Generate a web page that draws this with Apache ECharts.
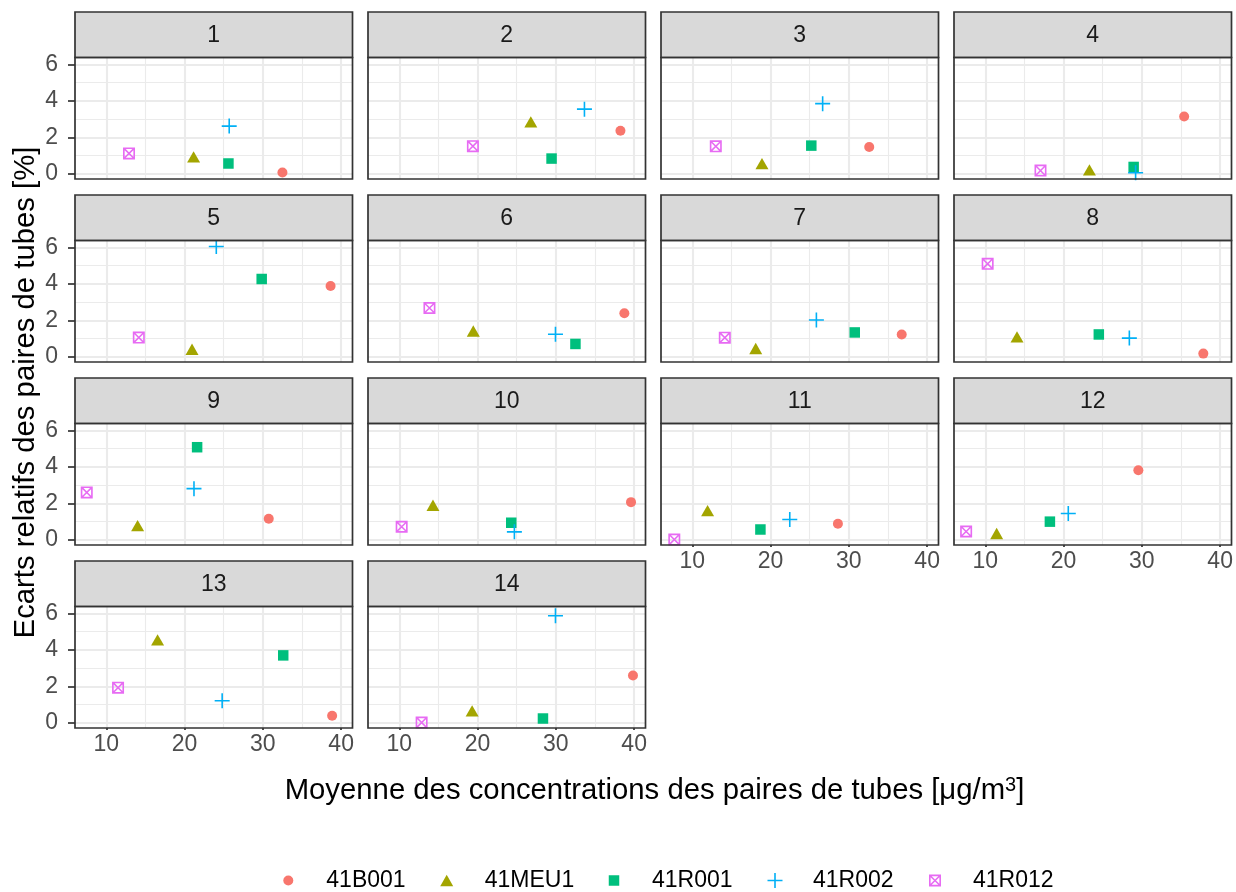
<!DOCTYPE html>
<html>
<head>
<meta charset="utf-8">
<script src="https://cdn.jsdelivr.net/npm/echarts@6/dist/echarts.min.js"></script>
<style>
html,body{margin:0;padding:0;background:#ffffff;}
#c{width:1236px;height:892px;}
</style>
</head>
<body>
<div id="c"></div>
<script>
// ---------------- DATA ----------------
const panelLabels = ['1','2','3','4','5','6','7','8','9','10','11','12','13','14'];
const stations = ['41B001','41MEU1','41R001','41R002','41R012'];

const x41B001 = [32.5, 38.25, 32.6, 35.4, 38.65, 38.75, 36.75, 37.85, 30.75, 39.6, 28.6, 29.55, 38.85, 39.85];
const y41B001 = [0.08, 2.36, 1.47, 3.15, 3.89, 2.39, 1.23, 0.18, 1.16, 2.07, 0.88, 3.82, 0.39, 2.6];
const x41MEU1 = [21.15, 26.8, 18.9, 23.3, 20.95, 19.45, 18.1, 14.05, 14.0, 14.3, 11.95, 11.45, 16.55, 19.3];
const y41MEU1 = [0.93, 2.85, 0.56, 0.22, 0.42, 1.42, 0.46, 1.1, 0.78, 1.9, 1.6, 0.35, 4.55, 0.66];
const x41R001 = [25.6, 29.45, 25.2, 28.95, 29.85, 32.5, 30.75, 24.5, 21.6, 24.3, 18.7, 18.25, 32.6, 28.35];
const y41R001 = [0.57, 0.84, 1.55, 0.38, 4.27, 0.71, 1.34, 1.23, 5.08, 0.94, 0.57, 1.0, 3.7, 0.24];
const x41R002 = [25.7, 33.65, 26.65, 29.2, 24.05, 29.95, 25.85, 28.4, 21.2, 24.7, 22.45, 20.6, 24.8, 29.95];
const y41R002 = [2.62, 3.55, 3.85, 0.06, 6.05, 1.24, 2.02, 1.03, 2.81, 0.44, 1.12, 1.45, 1.21, 5.87];
const x41R012 = [12.9, 19.4, 13.0, 17.05, 14.15, 13.85, 14.15, 10.3, 7.5, 10.3, 7.7, 7.55, 11.5, 12.85];
const y41R012 = [1.12, 1.52, 1.51, 0.18, 1.06, 2.68, 1.05, 5.1, 2.6, 0.72, 0.02, 0.46, 1.93, 0.02];

const xTicks = [10, 20, 30, 40];
const xMinor = [15, 25, 35];
const yTicks = [0, 2, 4, 6];
const yMinor = [1, 3, 5];

const xTitle = 'Moyenne des concentrations des paires de tubes [μg/m';
const xTitleSup = '3';
const yTitle = 'Ecarts relatifs des paires de tubes [%]';

// ---------------- STYLE / LAYOUT ----------------
const FONT = "'Liberation Sans', Arial, Helvetica, sans-serif";
const XMIN = 6.0, XMAX = 41.45, YMIN = -0.28, YMAX = 6.38;
const COL0 = 75, COLSTEP = 293, PW = 277.5;
const ROW0 = 12, ROWSTEP = 183, STRIP_H = 45.5, PH = 121.5;
const BORDER = '#333333';
const SMALL = 23, BIG = 29.3;

const seriesX = {'41B001': x41B001, '41MEU1': x41MEU1, '41R001': x41R001, '41R002': x41R002, '41R012': x41R012};
const seriesY = {'41B001': y41B001, '41MEU1': y41MEU1, '41R001': y41R001, '41R002': y41R002, '41R012': y41R012};

const styleOf = {
  '41B001': {symbol: 'circle', size: 10, legendW: 10, legendH: 10, color: '#F8766D'},
  '41MEU1': {symbol: 'path://M5,0 L10,8.66 L0,8.66 Z', size: [13, 11.3], legendW: 13, legendH: 11.3, color: '#A3A500'},
  '41R001': {symbol: 'path://M0,0 H10 V10 H0 Z', size: 10.5, legendW: 10.5, legendH: 10.5, color: '#00BF7D'},
  '41R002': {symbol: 'path://M6.7,0 H8.3 V15 H6.7 Z M0,6.7 H15 V8.3 H0 Z', size: 15, legendW: 15, legendH: 15, color: '#00B0F6'},
  '41R012': {symbol: 'path://M0,0 H11 V11 H0 Z M1.5,1.5 V9.5 H9.5 V1.5 Z M1.5,1.5 L2.5,1.5 L9.5,8.5 L9.5,9.5 L8.5,9.5 L1.5,2.5 Z M9.5,1.5 L9.5,2.5 L2.5,9.5 L1.5,9.5 L1.5,8.5 L8.5,1.5 Z', size: 12, legendW: 12, legendH: 12, color: '#E76BF3'}
};
const legendCx = [288.3, 446.7, 614, 775, 935];
const legendTextDx = 38;

const grids = [], xAxes = [], yAxes = [], series = [], graphics = [];

panelLabels.forEach((lab, p) => {
  const r = Math.floor(p / 4), c = p % 4;
  const left = COL0 + c * COLSTEP;
  const stripTop = ROW0 + r * ROWSTEP;
  const top = stripTop + STRIP_H;
  const showX = p + 4 >= panelLabels.length;
  const showY = c === 0;

  grids.push({left: left, top: top, width: PW, height: PH, containLabel: false, show: false});

  xAxes.push({
    type: 'value', gridIndex: p, min: XMIN, max: XMAX,
    axisLine: {show: false}, splitLine: {show: false},
    axisTick: {show: showX, length: 7, lineStyle: {color: BORDER, width: 1.7}, customValues: xTicks},
    axisLabel: {show: showX, customValues: xTicks, fontSize: SMALL, color: '#4D4D4D', margin: 5, fontFamily: FONT}
  });
  yAxes.push({
    type: 'value', gridIndex: p, min: YMIN, max: YMAX,
    axisLine: {show: false}, splitLine: {show: false},
    axisTick: {show: showY, length: 7, lineStyle: {color: BORDER, width: 1.7}, customValues: yTicks},
    axisLabel: {show: showY, customValues: yTicks, fontSize: SMALL, color: '#4D4D4D', margin: 17, fontFamily: FONT}
  });

  stations.forEach((s, si) => {
    const st = styleOf[s];
    const ser = {
      type: 'scatter', name: s, xAxisIndex: p, yAxisIndex: p,
      data: [[seriesX[s][p], seriesY[s][p]]],
      symbol: st.symbol, symbolSize: st.size,
      itemStyle: {color: st.color, opacity: 1},
      emphasis: {disabled: true},
      z: 3, animation: false, clip: false
    };
    if (si === 0) {
      const ml = [];
      xTicks.forEach(v => ml.push({xAxis: v, lineStyle: {width: 2.1}}));
      xMinor.forEach(v => ml.push({xAxis: v, lineStyle: {width: 1.1}}));
      yTicks.forEach(v => ml.push({yAxis: v, lineStyle: {width: 2.1}}));
      yMinor.forEach(v => ml.push({yAxis: v, lineStyle: {width: 1.1}}));
      ser.markLine = {
        silent: true, symbol: ['none', 'none'], label: {show: false}, animation: false, z: 1,
        lineStyle: {color: '#EBEBEB', type: 'solid'}, emphasis: {disabled: true},
        data: ml
      };
    }
    series.push(ser);
  });

  graphics.push({type: 'rect', silent: true, z: 100,
    shape: {x: left, y: stripTop, width: PW, height: STRIP_H},
    style: {fill: '#D9D9D9', stroke: BORDER, lineWidth: 1.7}});
  graphics.push({type: 'text', silent: true, z: 101, x: left + PW / 2, y: stripTop + STRIP_H / 2 + 1,
    style: {text: lab, fontSize: SMALL, fontFamily: FONT, fill: '#1A1A1A', align: 'center', verticalAlign: 'middle'}});
  graphics.push({type: 'rect', silent: true, z: 100,
    shape: {x: left, y: top, width: PW, height: PH},
    style: {fill: 'none', stroke: BORDER, lineWidth: 1.7}});
});

graphics.push({type: 'text', silent: true, z: 101, x: 654.5, y: 791,
  style: {
    text: '{a|' + xTitle + '}{s|' + xTitleSup + '}{a|]}',
    align: 'center', verticalAlign: 'middle',
    rich: {
      a: {fontSize: BIG, fontFamily: FONT, fill: '#000', lineHeight: 31, verticalAlign: 'middle'},
      s: {fontSize: 20, fontFamily: FONT, fill: '#000', lineHeight: 20, verticalAlign: 'top'}
    }
  }});
graphics.push({type: 'text', silent: true, z: 101, x: 26, y: 392.5, rotation: Math.PI / 2,
  style: {text: yTitle, fontSize: BIG, fontFamily: FONT, fill: '#000', align: 'center', verticalAlign: 'middle'}});

const legends = stations.map((s, i) => {
  const st = styleOf[s];
  return {
    data: [{name: s}],
    left: legendCx[i] - st.legendW / 2, top: 869,
    itemWidth: st.legendW, itemHeight: st.legendH,
    symbolKeepAspect: false, selectedMode: false, padding: 0, itemGap: 0,
    textStyle: {fontSize: SMALL, color: '#000', fontFamily: FONT,
      padding: [0, 0, 0, legendTextDx - st.legendW / 2 - 5]}
  };
});

const chart = echarts.init(document.getElementById('c'), null, {renderer: 'canvas', width: 1236, height: 892});
chart.setOption({
  animation: false,
  backgroundColor: '#ffffff',
  textStyle: {fontFamily: FONT},
  grid: grids,
  xAxis: xAxes,
  yAxis: yAxes,
  legend: legends,
  series: series,
  graphic: graphics
});
</script>
</body>
</html>
